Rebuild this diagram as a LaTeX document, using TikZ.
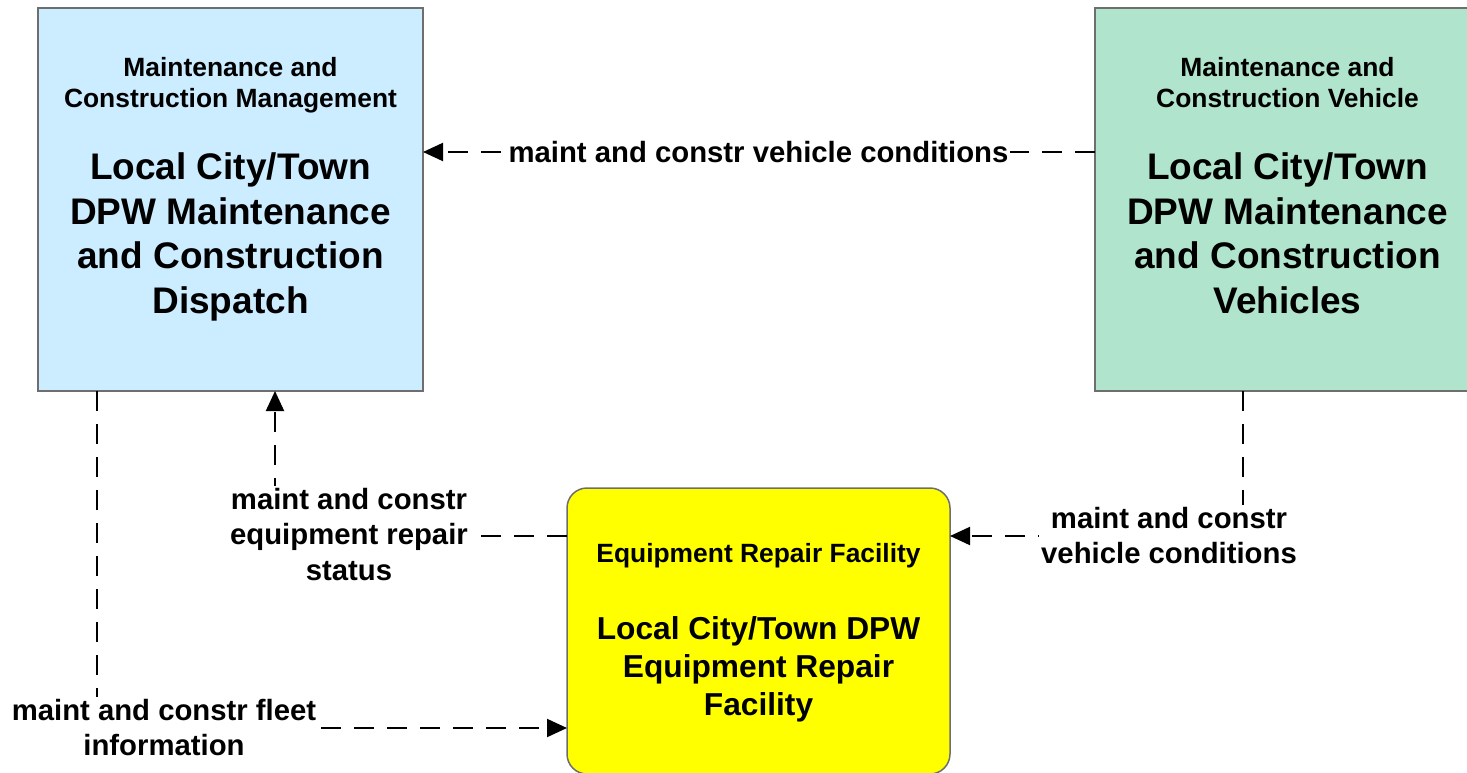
\documentclass[tikz,border=0pt]{standalone}
\usepackage{fontspec}
\setmainfont{Liberation Sans}
\usetikzlibrary{arrows.meta}
\definecolor{mgblue}{RGB}{204,236,255}
\definecolor{mggreen}{RGB}{176,228,204}
\definecolor{mgyellow}{RGB}{255,255,0}
\definecolor{mgborder}{RGB}{110,110,110}
\newcommand\hdrfont{\fontsize{26.4}{31}\selectfont\bfseries}
\newcommand\ttlfont{\fontsize{37}{44.7}\selectfont\bfseries}
\newcommand\yttlfont{\fontsize{31.7}{38}\selectfont\bfseries}
\newcommand\lblfont{\fontsize{29.3}{35.7}\selectfont\bfseries}
\begin{document}
\begin{tikzpicture}[x=1pt,y=-1pt,
  box/.style={draw=mgborder, line width=1.5pt, minimum width=385pt, minimum height=383pt, inner sep=0pt, outer sep=0pt},
  ybox/.style={draw=mgborder, line width=1.5pt, fill=mgyellow, rounded corners=20pt, minimum width=383pt, minimum height=286pt, inner sep=0pt, outer sep=0pt},
  hdr/.style={font=\hdrfont, align=center, inner sep=0pt, anchor=north},
  ttl/.style={font=\ttlfont, align=center, inner sep=0pt, anchor=north},
  yttl/.style={font=\yttlfont, align=center, inner sep=0pt, anchor=north},
  lbl/.style={font=\lblfont, align=center, fill=white, inner xsep=2pt, inner ysep=2pt},
  conn/.style={line width=2pt, dash pattern=on 20pt off 13pt, -{Triangle[length=20pt,width=18pt]}}]
\path[use as bounding box] (0,0) rectangle (1467,773);
\clip (0,0) rectangle (1467,773);
% boxes
\node[box, fill=mgblue] (blue) at (230.5,199.5) {};
\node[box, fill=mggreen] (green) at (1287.5,199.5) {};
\node[ybox] (yellow) at (758.5,631) {};
% box texts
\node[hdr] (bluehdr) at (230.5,57) {Maintenance and\\Construction Management};
\node[ttl] (bluettl) at (230.5,152.5) {Local City/Town\\DPW Maintenance\\and Construction\\Dispatch};
\node[hdr] (greenhdr) at (1287.5,57) {Maintenance and\\Construction Vehicle};
\node[ttl] (greenttl) at (1287.5,152.5) {Local City/Town\\DPW Maintenance\\and Construction\\Vehicles};
\node[hdr] (yhdr) at (758.5,543) {Equipment Repair Facility};
\node[yttl] (yttl) at (758.5,616.5) {Local City/Town DPW\\Equipment Repair\\Facility};
% connector corners
\coordinate (y1) at (0,152);
\coordinate (c2) at (1243,536);
\coordinate (c3) at (275,536);
\coordinate (c4) at (97,728);
% connectors
\draw[conn] (green.west |- y1) -- (blue.east |- y1);
\draw[conn] (green.south -| c2) -- (c2) -- (yellow.east |- c2);
\draw[conn] (yellow.west |- c3) -- (c3) -- (blue.south -| c3);
\draw[conn] (blue.south -| c4) -- (c4) -- (yellow.west |- c4);
% labels
\node[lbl, anchor=base] (l1) at (758.5,162) {maint and constr vehicle conditions};
\node[lbl, anchor=north] (l2) at (1169,504.6) {maint and constr\\vehicle conditions};
\node[lbl, anchor=north] (l3) at (349,485.6) {maint and constr\\equipment repair\\status};
\node[lbl, anchor=north] (l4) at (164,696.6) {maint and constr fleet\\information};
\end{tikzpicture}
\end{document}
